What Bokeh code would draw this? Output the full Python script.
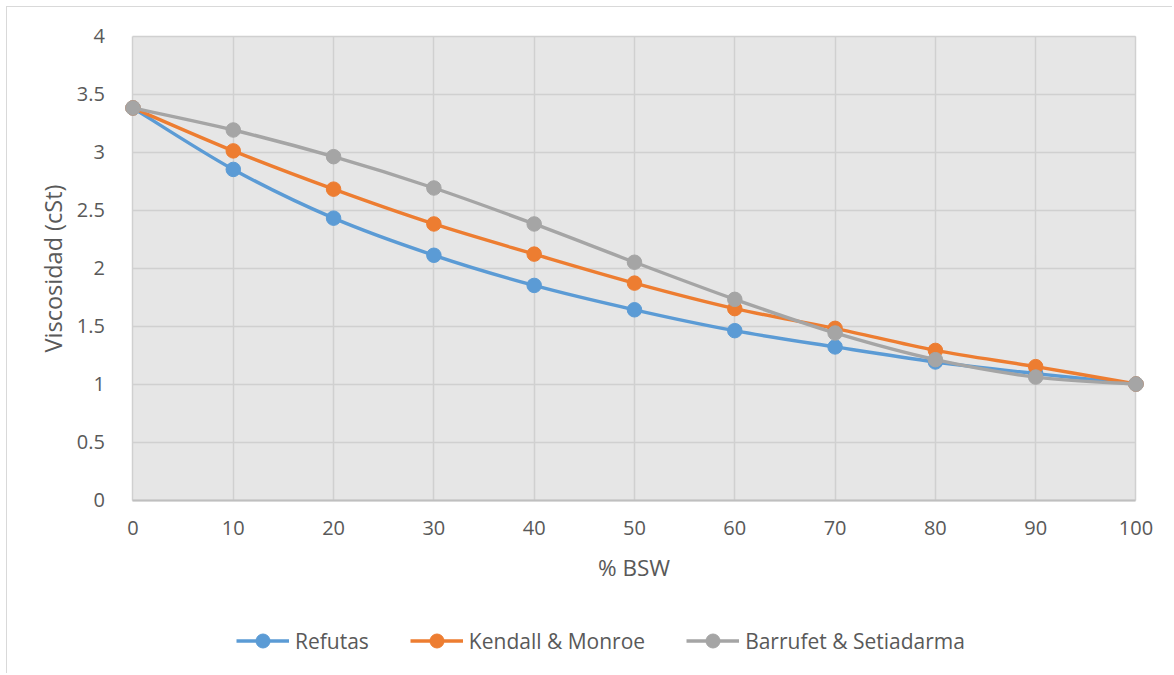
from bokeh.plotting import figure
from bokeh.models import Range1d, FixedTicker, Legend, LegendItem, ColumnDataSource, BoxAnnotation
from bokeh.embed import file_html
from bokeh.resources import INLINE

# ---- data ----
bsw = [0, 10, 20, 30, 40, 50, 60, 70, 80, 90, 100]
refutas = [3.38, 2.85, 2.43, 2.11, 1.85, 1.64, 1.46, 1.32, 1.19, 1.09, 1.00]
kendall = [3.38, 3.01, 2.68, 2.38, 2.12, 1.87, 1.65, 1.48, 1.29, 1.15, 1.00]
barrufet = [3.38, 3.19, 2.96, 2.69, 2.38, 2.05, 1.73, 1.44, 1.21, 1.06, 1.00]
series_names = ["Refutas", "Kendall & Monroe", "Barrufet & Setiadarma"]
x_ticks = [0, 10, 20, 30, 40, 50, 60, 70, 80, 90, 100]
x_tick_labels = ["0", "10", "20", "30", "40", "50", "60", "70", "80", "90", "100"]
y_ticks = [0, 0.5, 1, 1.5, 2, 2.5, 3, 3.5, 4]
y_tick_labels = ["0", "0.5", "1", "1.5", "2", "2.5", "3", "3.5", "4"]
x_title = "% BSW"
y_title = "Viscosidad (cSt)"

colors = ["#5b9bd5", "#ed7d31", "#a5a5a5"]
FONT = "Open Sans"
TXT = "#595959"

# axis extents of the data area
X0, X1 = 0, 100
Y0, Y1 = 0, 4

# frame fills the whole canvas; view ranges chosen so the data area sits where the reference has it
p = figure(width=1166, height=667, output_backend="svg", toolbar_location=None,
           x_range=Range1d(-12.51, 103.74), y_range=Range1d(-1.504, 4.246),
           min_border_left=0, min_border_right=0, min_border_top=0, min_border_bottom=0)
p.styles = {"border-top": "1.5px solid #d9d9d9", "border-left": "1.5px solid #d9d9d9"}
p.margin = (6, 0, 0, 6)
p.background_fill_color = "white"
p.border_fill_color = "white"
p.outline_line_color = None

plot_area = BoxAnnotation(left=X0, right=X1, bottom=Y0, top=Y1, fill_color="#e6e6e6",
                          fill_alpha=1.0, line_color=None, level="image")
p.add_layout(plot_area)

p.xaxis.fixed_location = Y0
p.yaxis.fixed_location = X0
p.xaxis.bounds = (X0, X1)
p.yaxis.bounds = (Y0, Y1)
p.xaxis.ticker = FixedTicker(ticks=x_ticks)
p.yaxis.ticker = FixedTicker(ticks=y_ticks)
p.xaxis.major_label_overrides = dict(zip(x_ticks, x_tick_labels))
p.yaxis.major_label_overrides = dict(zip(y_ticks, y_tick_labels))
for ax in (p.xaxis, p.yaxis):
    ax.major_tick_line_color = None
    ax.minor_tick_line_color = None
    ax.major_label_text_font = FONT
    ax.major_label_text_font_size = "20px"
    ax.major_label_text_color = TXT
    ax.axis_label_text_font = FONT
    ax.axis_label_text_color = TXT
    ax.axis_label_text_font_style = "normal"
p.xaxis.axis_label_text_font_size = "22.5px"
p.yaxis.axis_label_text_font_size = "23.5px"
p.xaxis.axis_line_color = "#bfbfbf"
p.xaxis.axis_line_width = 2
p.yaxis.axis_line_color = None
p.xaxis.major_label_standoff = 15
p.yaxis.major_label_standoff = 22
p.xaxis.axis_label = x_title
p.yaxis.axis_label = y_title
p.xaxis.axis_label_standoff = 13
p.yaxis.axis_label_standoff = 4

p.xgrid.ticker = FixedTicker(ticks=x_ticks)
p.ygrid.ticker = FixedTicker(ticks=y_ticks)
p.xgrid.cross_bounds = (Y0, Y1)
p.ygrid.cross_bounds = (X0, X1)
p.grid.grid_line_color = "#d0d0d0"
p.grid.grid_line_width = 1.5


def smooth_segments(xs, ys, k=1.0 / 6.0):
    n = len(xs)
    d = dict(x0=[], y0=[], x1=[], y1=[], cx0=[], cy0=[], cx1=[], cy1=[])
    for i in range(n - 1):
        im1 = max(i - 1, 0)
        ip2 = min(i + 2, n - 1)
        d["x0"].append(xs[i]); d["y0"].append(ys[i])
        d["x1"].append(xs[i + 1]); d["y1"].append(ys[i + 1])
        d["cx0"].append(xs[i] + (xs[i + 1] - xs[im1]) * k)
        d["cy0"].append(ys[i] + (ys[i + 1] - ys[im1]) * k)
        d["cx1"].append(xs[i + 1] - (xs[ip2] - xs[i]) * k)
        d["cy1"].append(ys[i + 1] - (ys[ip2] - ys[i]) * k)
    return ColumnDataSource(d)


items = []
for name, ys, c in zip(series_names, [refutas, kendall, barrufet], colors):
    src = smooth_segments(bsw, ys)
    b = p.bezier(x0="x0", y0="y0", x1="x1", y1="y1", cx0="cx0", cy0="cy0", cx1="cx1", cy1="cy1",
                 source=src, line_color=c, line_width=3.4)
    s = p.scatter(bsw, ys, size=14.5, marker="circle", fill_color=c, line_color=c)
    items.append(LegendItem(label=name, renderers=[b, s]))

legend = Legend(items=items, orientation="horizontal", location=(229, 16),
                glyph_width=53, glyph_height=35, label_standoff=6, spacing=41,
                padding=0, margin=0, background_fill_alpha=0, border_line_alpha=0,
                label_text_font=FONT, label_text_font_size="21px", label_text_color=TXT)
p.add_layout(legend, "center")

open("out.html", "w").write(file_html(p, INLINE))
